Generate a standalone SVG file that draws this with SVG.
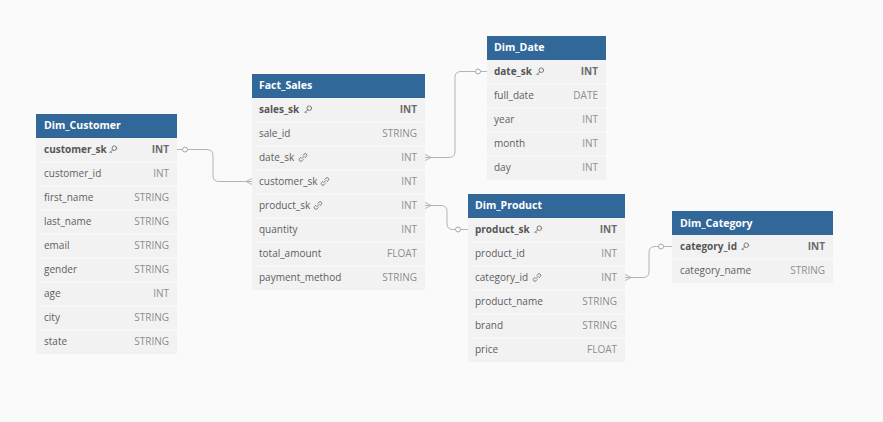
<svg xmlns="http://www.w3.org/2000/svg" width="883" height="422" viewBox="0 0 883 422">
<defs>
<style>
.hdr{fill:#316899}
.body{fill:#f2f2f2}
.sep{stroke:#fafafa;stroke-width:1}
.t{font-family:"Open Sans","Noto Sans",sans-serif;font-size:10px;fill:#5e5e5e}
.ty{font-family:"Open Sans","Noto Sans",sans-serif;font-size:10px;fill:#8e8e8e;text-anchor:end}
.k{font-weight:bold;fill:#575757}
.tk{font-weight:bold;fill:#6a6a6a}
.h{font-family:"Open Sans","Noto Sans",sans-serif;font-size:10.5px;font-weight:bold;fill:#ffffff}
.conn{stroke:#b4b4b4;stroke-width:1;fill:none}
.dot{fill:#fafafa;stroke:#a8a8a8;stroke-width:1}
.ico{fill:none;stroke:#6e6e6e;stroke-width:0.9;stroke-linecap:round}
</style>
<symbol id="key" viewBox="0 0 8 8" overflow="visible">
<circle cx="5.3" cy="2.7" r="2.3" class="ico"/>
<path d="M3.7 4.3 L0.8 7.2 M1.6 6.4 L2.6 7.4" class="ico"/>
</symbol>
<symbol id="link" viewBox="0 0 8 8" overflow="visible">
<path d="M3.8 1.9 L5.0 0.7 A1.5 1.5 0 0 1 7.3 3.0 L6.1 4.2 M4.2 6.1 L3.0 7.3 A1.5 1.5 0 0 1 0.7 5.0 L1.9 3.8 M2.8 5.2 L5.2 2.8" class="ico"/>
</symbol>
</defs>
<rect width="883" height="422" fill="#fafafa"/>

<g id="connectors">
<path class="conn" d="M177,149.5 H207 Q213,149.5 213,155.5 V175.5 Q213,181.5 219,181.5 H252"/>
<path class="conn" d="M246,181.5 L252,178.5 M246,181.5 L252,184.5"/>
<circle class="dot" cx="185" cy="149.5" r="2.5"/>

<path class="conn" d="M425,157.5 H449 Q455,157.5 455,151.5 V77.5 Q455,71.5 461,71.5 H487"/>
<path class="conn" d="M431,157.5 L425,154.5 M431,157.5 L425,160.5"/>
<circle class="dot" cx="478" cy="71.5" r="2.5"/>

<path class="conn" d="M425,205.5 H441 Q447,205.5 447,211.5 V223.5 Q447,229.5 453,229.5 H468"/>
<path class="conn" d="M431,205.5 L425,202.5 M431,205.5 L425,208.5"/>
<circle class="dot" cx="458" cy="229.5" r="2.5"/>

<path class="conn" d="M625,277.5 H643 Q649,277.5 649,271.5 V252.5 Q649,246.5 655,246.5 H672"/>
<path class="conn" d="M631,277.5 L625,274.5 M631,277.5 L625,280.5"/>
<circle class="dot" cx="661" cy="246.5" r="2.5"/>
</g>

<g id="Dim_Customer">
<rect class="body" x="36" y="114" width="141" height="240"/>
<rect class="hdr" x="36" y="114" width="141" height="24"/>
<text class="h" x="44" y="129">Dim_Customer</text>
<g>
<line class="sep" x1="36" y1="162" x2="177" y2="162"/><line class="sep" x1="36" y1="186" x2="177" y2="186"/><line class="sep" x1="36" y1="210" x2="177" y2="210"/><line class="sep" x1="36" y1="234" x2="177" y2="234"/><line class="sep" x1="36" y1="258" x2="177" y2="258"/><line class="sep" x1="36" y1="282" x2="177" y2="282"/><line class="sep" x1="36" y1="306" x2="177" y2="306"/><line class="sep" x1="36" y1="330" x2="177" y2="330"/>
</g>
<text class="t k" x="44" y="153">customer_sk</text><use href="#key" x="109" y="145.5" width="8" height="8"/><text class="ty tk" x="169" y="153">INT</text>
<text class="t" x="44" y="177">customer_id</text><text class="ty" x="169" y="177">INT</text>
<text class="t" x="44" y="201">first_name</text><text class="ty" x="169" y="201">STRING</text>
<text class="t" x="44" y="225">last_name</text><text class="ty" x="169" y="225">STRING</text>
<text class="t" x="44" y="249">email</text><text class="ty" x="169" y="249">STRING</text>
<text class="t" x="44" y="273">gender</text><text class="ty" x="169" y="273">STRING</text>
<text class="t" x="44" y="297">age</text><text class="ty" x="169" y="297">INT</text>
<text class="t" x="44" y="321">city</text><text class="ty" x="169" y="321">STRING</text>
<text class="t" x="44" y="345">state</text><text class="ty" x="169" y="345">STRING</text>
</g>

<g id="Fact_Sales">
<rect class="body" x="252" y="74" width="173" height="216"/>
<rect class="hdr" x="252" y="74" width="173" height="24"/>
<text class="h" x="259" y="89">Fact_Sales</text>
<g>
<line class="sep" x1="252" y1="122" x2="425" y2="122"/><line class="sep" x1="252" y1="146" x2="425" y2="146"/><line class="sep" x1="252" y1="170" x2="425" y2="170"/><line class="sep" x1="252" y1="194" x2="425" y2="194"/><line class="sep" x1="252" y1="218" x2="425" y2="218"/><line class="sep" x1="252" y1="242" x2="425" y2="242"/><line class="sep" x1="252" y1="266" x2="425" y2="266"/>
</g>
<text class="t k" x="259" y="113">sales_sk</text><use href="#key" x="304" y="105.5" width="8" height="8"/><text class="ty tk" x="417" y="113">INT</text>
<text class="t" x="259" y="137">sale_id</text><text class="ty" x="417" y="137">STRING</text>
<text class="t" x="259" y="161">date_sk</text><use href="#link" x="299" y="153.5" width="8" height="8"/><text class="ty" x="417" y="161">INT</text>
<text class="t" x="259" y="185">customer_sk</text><use href="#link" x="321" y="177.5" width="8" height="8"/><text class="ty" x="417" y="185">INT</text>
<text class="t" x="259" y="209">product_sk</text><use href="#link" x="314" y="201.5" width="8" height="8"/><text class="ty" x="417" y="209">INT</text>
<text class="t" x="259" y="233">quantity</text><text class="ty" x="417" y="233">INT</text>
<text class="t" x="259" y="257">total_amount</text><text class="ty" x="417" y="257">FLOAT</text>
<text class="t" x="259" y="281">payment_method</text><text class="ty" x="417" y="281">STRING</text>
</g>

<g id="Dim_Date">
<rect class="body" x="487" y="36" width="119" height="144"/>
<rect class="hdr" x="487" y="36" width="119" height="24"/>
<text class="h" x="494" y="51">Dim_Date</text>
<g>
<line class="sep" x1="487" y1="84" x2="606" y2="84"/><line class="sep" x1="487" y1="108" x2="606" y2="108"/><line class="sep" x1="487" y1="132" x2="606" y2="132"/><line class="sep" x1="487" y1="156" x2="606" y2="156"/>
</g>
<text class="t k" x="494" y="75">date_sk</text><use href="#key" x="536" y="67.5" width="8" height="8"/><text class="ty tk" x="598" y="75">INT</text>
<text class="t" x="494" y="99">full_date</text><text class="ty" x="598" y="99">DATE</text>
<text class="t" x="494" y="123">year</text><text class="ty" x="598" y="123">INT</text>
<text class="t" x="494" y="147">month</text><text class="ty" x="598" y="147">INT</text>
<text class="t" x="494" y="171">day</text><text class="ty" x="598" y="171">INT</text>
</g>

<g id="Dim_Product">
<rect class="body" x="468" y="194" width="157" height="168"/>
<rect class="hdr" x="468" y="194" width="157" height="24"/>
<text class="h" x="475" y="209">Dim_Product</text>
<g>
<line class="sep" x1="468" y1="242" x2="625" y2="242"/><line class="sep" x1="468" y1="266" x2="625" y2="266"/><line class="sep" x1="468" y1="290" x2="625" y2="290"/><line class="sep" x1="468" y1="314" x2="625" y2="314"/><line class="sep" x1="468" y1="338" x2="625" y2="338"/>
</g>
<text class="t k" x="475" y="233">product_sk</text><use href="#key" x="534" y="225.5" width="8" height="8"/><text class="ty tk" x="617" y="233">INT</text>
<text class="t" x="475" y="257">product_id</text><text class="ty" x="617" y="257">INT</text>
<text class="t" x="475" y="281">category_id</text><use href="#link" x="533" y="273.5" width="8" height="8"/><text class="ty" x="617" y="281">INT</text>
<text class="t" x="475" y="305">product_name</text><text class="ty" x="617" y="305">STRING</text>
<text class="t" x="475" y="329">brand</text><text class="ty" x="617" y="329">STRING</text>
<text class="t" x="475" y="353">price</text><text class="ty" x="617" y="353">FLOAT</text>
</g>

<g id="Dim_Category">
<rect class="body" x="672" y="211" width="161" height="72"/>
<rect class="hdr" x="672" y="211" width="161" height="24"/>
<text class="h" x="680" y="227">Dim_Category</text>
<line class="sep" x1="672" y1="259" x2="833" y2="259"/>
<text class="t k" x="680" y="250">category_id</text><use href="#key" x="741" y="242.5" width="8" height="8"/><text class="ty tk" x="825" y="250">INT</text>
<text class="t" x="680" y="274">category_name</text><text class="ty" x="825" y="274">STRING</text>
</g>
</svg>
